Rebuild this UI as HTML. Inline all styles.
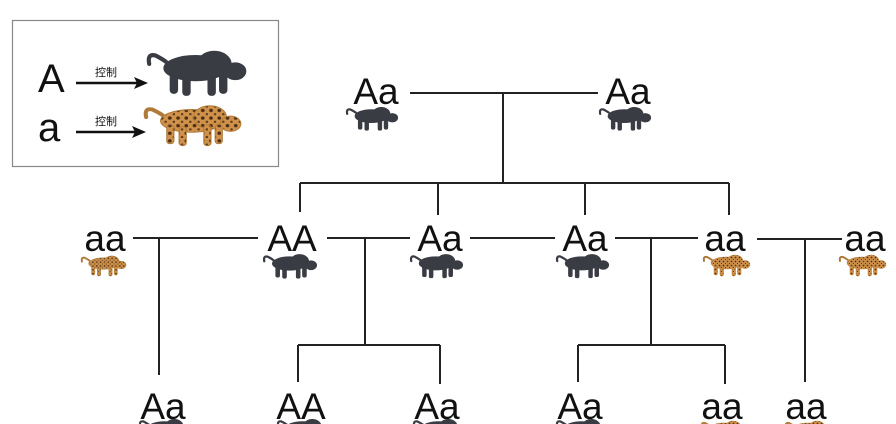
<!DOCTYPE html>
<html><head><meta charset="utf-8"><style>
html,body{margin:0;padding:0;background:#fff;width:896px;height:424px;overflow:hidden}
text{font-family:"Liberation Sans","Noto Sans CJK SC",sans-serif;fill:#111}
</style></head><body>
<svg width="896" height="424" viewBox="0 0 896 424" xmlns="http://www.w3.org/2000/svg">
<defs>
<g id="cat">
  <path d="M4,18 Q2,8 10,10 Q16,13 20,16" fill="none" stroke-width="4" stroke-linecap="round"/>
  <ellipse cx="48" cy="22" rx="30" ry="12"/>
  <ellipse cx="66" cy="18" rx="16" ry="12"/>
  <ellipse cx="86" cy="25" rx="10" ry="8"/>
  <rect x="24" y="26" width="7" height="20" rx="3"/>
  <rect x="36" y="28" width="7" height="20" rx="3"/>
  <rect x="60" y="26" width="7" height="22" rx="3"/>
  <rect x="71" y="26" width="7" height="20" rx="3"/>
</g>
<pattern id="spots" width="8" height="8" patternUnits="userSpaceOnUse">
  <rect width="8" height="8" fill="#d0924a"/>
  <circle cx="3" cy="3" r="1.8" fill="#4a2e15"/>
  <circle cx="7" cy="7" r="1.3" fill="#5a3a1a"/>
</pattern>
</defs>

<!-- legend -->
<rect x="12.5" y="20.5" width="266" height="146" fill="#fff" stroke="#888" stroke-width="1.2"/>
<text x="38" y="92" font-size="40">A</text>
<text x="38" y="141" font-size="40">a</text>
<text x="95" y="76" font-size="11">控制</text>
<text x="95" y="125" font-size="11">控制</text>
<g stroke="#111" stroke-width="2.5"><line x1="76" y1="83" x2="140" y2="83"/><line x1="76" y1="132" x2="138" y2="132"/></g>
<path d="M148,83 L134,77 L137,83 L134,89 Z" fill="#111"/>
<path d="M146,132 L132,126 L135,132 L132,138 Z" fill="#111"/>
<use href="#cat" transform="translate(145,45) scale(1.05,1.05)" fill="#3a3c44" stroke="#3a3c44"/>
<use href="#cat" transform="translate(142,100) scale(1.03,0.95)" fill="url(#spots)" stroke="#b07a3a"/>

<!-- lines -->
<g stroke="#222" stroke-width="2" fill="none">
  <line x1="410" y1="93" x2="598" y2="93"/>
  <line x1="503" y1="93" x2="503" y2="183"/>
  <line x1="300" y1="183" x2="729" y2="183"/>
  <line x1="300" y1="183" x2="300" y2="212"/>
  <line x1="438" y1="183" x2="438" y2="215"/>
  <line x1="585" y1="183" x2="585" y2="215"/>
  <line x1="729" y1="183" x2="729" y2="215"/>
  <line x1="133" y1="238" x2="258" y2="238"/>
  <line x1="327" y1="238" x2="410" y2="238"/>
  <line x1="470" y1="238" x2="555" y2="238"/>
  <line x1="615" y1="238" x2="698" y2="238"/>
  <line x1="757" y1="239" x2="842" y2="239"/>
  <line x1="159" y1="238" x2="159" y2="375"/>
  <line x1="365" y1="238" x2="365" y2="345"/>
  <line x1="651" y1="238" x2="651" y2="345"/>
  <line x1="805" y1="239" x2="805" y2="382"/>
  <line x1="298" y1="345" x2="440" y2="345"/>
  <line x1="298" y1="345" x2="298" y2="382"/>
  <line x1="440" y1="345" x2="440" y2="384"/>
  <line x1="578" y1="345" x2="725" y2="345"/>
  <line x1="578" y1="345" x2="578" y2="382"/>
  <line x1="725" y1="345" x2="725" y2="384"/>
</g>

<!-- labels -->
<g font-size="37" text-anchor="middle">
  <text x="376" y="104">Aa</text><text x="628" y="104">Aa</text>
  <text x="105" y="251">aa</text><text x="292" y="251">AA</text><text x="440" y="251">Aa</text>
  <text x="585" y="251">Aa</text><text x="725" y="251">aa</text><text x="865" y="251">aa</text>
  <text x="163" y="419">Aa</text><text x="301" y="419">AA</text><text x="437" y="419">Aa</text>
  <text x="580" y="419">Aa</text><text x="722" y="419">aa</text><text x="806" y="419">aa</text>
</g>

<!-- small cats -->
<g>
  <use href="#cat" transform="translate(345,104) scale(0.55)" fill="#3a3c44" stroke="#3a3c44"/>
  <use href="#cat" transform="translate(598,104) scale(0.55)" fill="#3a3c44" stroke="#3a3c44"/>
  <use href="#cat" transform="translate(80,253) scale(0.48)" fill="url(#spots)" stroke="#b07a3a"/>
  <use href="#cat" transform="translate(262,251) scale(0.57)" fill="#3a3c44" stroke="#3a3c44"/>
  <use href="#cat" transform="translate(409,251) scale(0.56)" fill="#3a3c44" stroke="#3a3c44"/>
  <use href="#cat" transform="translate(555,251) scale(0.56)" fill="#3a3c44" stroke="#3a3c44"/>
  <use href="#cat" transform="translate(702,252) scale(0.5)" fill="url(#spots)" stroke="#b07a3a"/>
  <use href="#cat" transform="translate(838,252) scale(0.5)" fill="url(#spots)" stroke="#b07a3a"/>
  <use href="#cat" transform="translate(138,416) scale(0.55)" fill="#3a3c44" stroke="#3a3c44"/>
  <use href="#cat" transform="translate(276,416) scale(0.55)" fill="#3a3c44" stroke="#3a3c44"/>
  <use href="#cat" transform="translate(412,416) scale(0.55)" fill="#3a3c44" stroke="#3a3c44"/>
  <use href="#cat" transform="translate(555,416) scale(0.55)" fill="#3a3c44" stroke="#3a3c44"/>
  <use href="#cat" transform="translate(700,418) scale(0.5)" fill="url(#spots)" stroke="#b07a3a"/>
  <use href="#cat" transform="translate(784,418) scale(0.5)" fill="url(#spots)" stroke="#b07a3a"/>
</g>
</svg>
</body></html>
